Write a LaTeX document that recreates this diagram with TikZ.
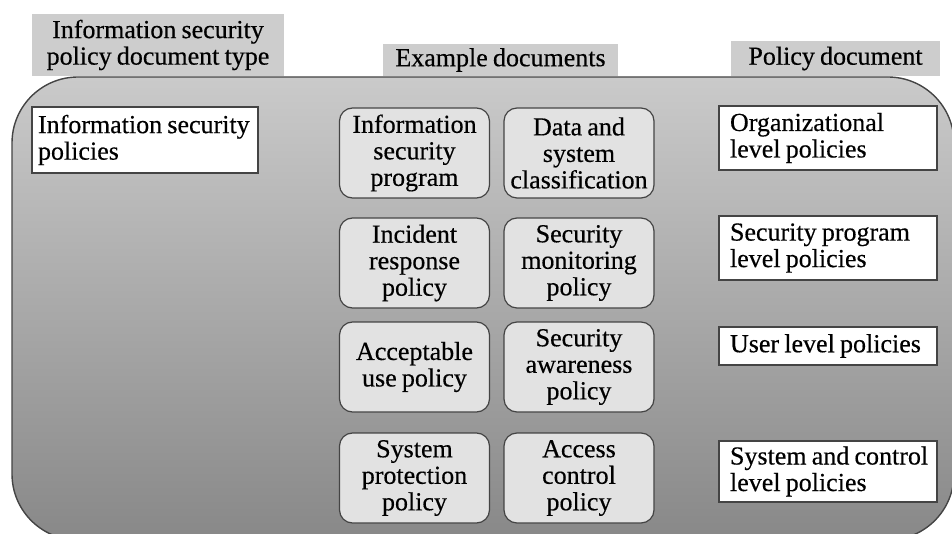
\documentclass[tikz,border=0pt]{standalone}
\usepackage{fontspec}
\setmainfont[WordSpace=0.8, FakeBold=0.4]{Liberation Serif}
\definecolor{hdrgray}{RGB}{205,205,205}
\definecolor{docgray}{RGB}{226,226,226}
\definecolor{edgegray}{RGB}{68,68,68}
\definecolor{frametop}{RGB}{202,202,202}
\definecolor{framebot}{RGB}{136,136,136}
\begin{document}
\begin{tikzpicture}[x=1pt,y=-1pt,
  every node/.style={font=\fontsize{26}{26.5}\selectfont, inner sep=0pt},
  hdr/.style={fill=hdrgray, align=center},
  docbox/.style={draw=edgegray, line width=1.2pt, fill=docgray, rounded corners=13pt,
    minimum width=150pt, minimum height=90pt, align=center},
  polbox/.style={draw=edgegray, line width=1.2pt, fill=white, align=flush left,
    inner xsep=11pt, text width=196pt},
]
\useasboundingbox (0,0) rectangle (952,534);
\begin{scope}
\clip (0,0) rectangle (952,534);
\draw[edgegray, line width=1.4pt, top color=frametop, bottom color=framebot,
  rounded corners=66pt] (12,77) rectangle (954,540);
\end{scope}

% headers
\node[hdr, minimum width=252pt, minimum height=62pt] (h1) at (158,45)
  {Information security\\policy document type};
\node[hdr, minimum width=235pt, minimum height=32pt] (h2) at (500.5,60)
  {Example documents};
\node[hdr, minimum width=209pt, minimum height=35pt] (h3) at (835.5,58.5)
  {Policy document};

% left type box
\node[polbox, inner xsep=6pt, text width=214pt, minimum height=66pt] (type) at (145,140)
  {\mbox{Information security}\\policies};

% example documents
\node[docbox] (d11) at (414.5,153) {Information\\security\\program};
\node[docbox] (d12) at (579,153) {Data and\\system\\classification};
\node[docbox] (d21) at (414.5,263) {Incident\\response\\policy};
\node[docbox] (d22) at (579,263) {Security\\monitoring\\policy};
\node[docbox] (d31) at (414.5,367) {Acceptable\\use policy};
\node[docbox] (d32) at (579,367) {Security\\awareness\\policy};
\node[docbox] (d41) at (414.5,478) {System\\protection\\policy};
\node[docbox] (d42) at (579,478) {Access\\control\\policy};

% policy documents
\node[polbox, minimum height=64pt] (p1) at (828,138) {Organizational\\level policies};
\node[polbox, minimum height=64pt] (p2) at (828,248) {\mbox{Security program}\\level policies};
\node[polbox, minimum height=38pt] (p3) at (828,346) {\mbox{User level policies}};
\node[polbox, minimum height=61pt] (p4) at (828,471.5) {\mbox{System and control}\\level policies};
\end{tikzpicture}
\end{document}
